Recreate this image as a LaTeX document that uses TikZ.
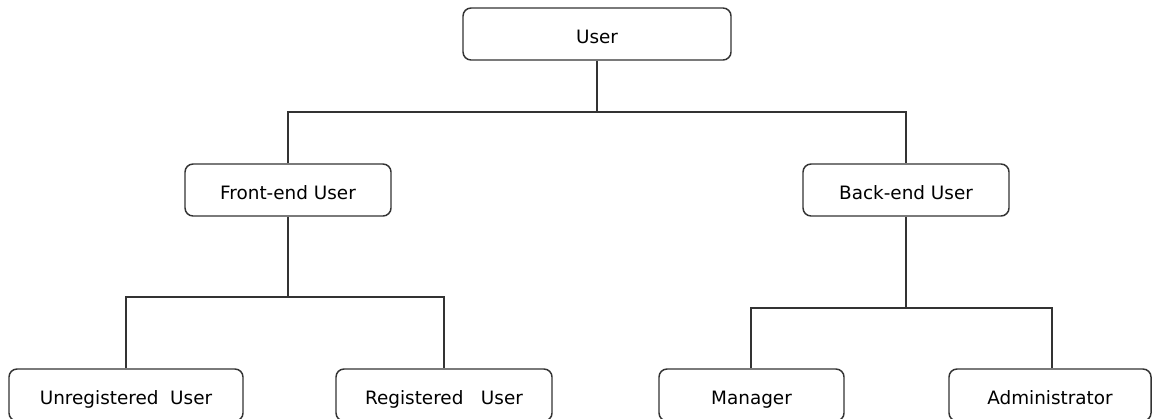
\documentclass[tikz,border=0pt]{standalone}
\usepackage{fontspec}
\setmainfont{DejaVu Sans}
\begin{document}
\begin{tikzpicture}[x=0.75pt,y=-0.75pt,
  box/.style={draw=black!80, line width=1.1pt, rounded corners=6pt, fill=white,
    minimum height=39pt, inner sep=2pt, text height=14.3pt, text depth=0pt,
    font=\fontsize{13.8pt}{15pt}\selectfont},
  conn/.style={draw=black!80, line width=1.1pt}]
\useasboundingbox (0,0) rectangle (1152,418);
\clip (0,0) rectangle (1152,418);
\node[box, minimum width=201pt] (user) at (597,34) {User};
\node[box, minimum width=154.5pt] (front) at (288,190) {Front-end User};
\node[box, minimum width=154.5pt] (back) at (906,190) {Back-end User};
\node[box, minimum width=175.5pt] (unreg) at (126,395) {Unregistered\ \ User};
\node[box, minimum width=162pt] (reg) at (444,395) {Registered\ \ \ User};
\node[box, minimum width=138.75pt] (man) at (751.5,395) {Manager};
\node[box, minimum width=151.5pt] (adm) at (1050,395) {Administrator};
\coordinate (j1) at (597,112);
\coordinate (j2) at (288,297);
\coordinate (j3) at (906,308);
\coordinate (j2l) at (126,297);
\coordinate (j2r) at (444,297);
\coordinate (j3l) at (751,308);
\coordinate (j3r) at (1052,308);
\draw[conn] (user.south) -- (j1);
\draw[conn] (front.north) |- (j1) -| (back.north);
\draw[conn] (front.south) -- (j2);
\draw[conn] (unreg.north) -- (j2l) -- (j2r) -- (j2r |- reg.north);
\draw[conn] (back.south) -- (j3);
\draw[conn] (j3l |- man.north) -- (j3l) -- (j3r) -- (j3r |- adm.north);
\end{tikzpicture}
\end{document}
